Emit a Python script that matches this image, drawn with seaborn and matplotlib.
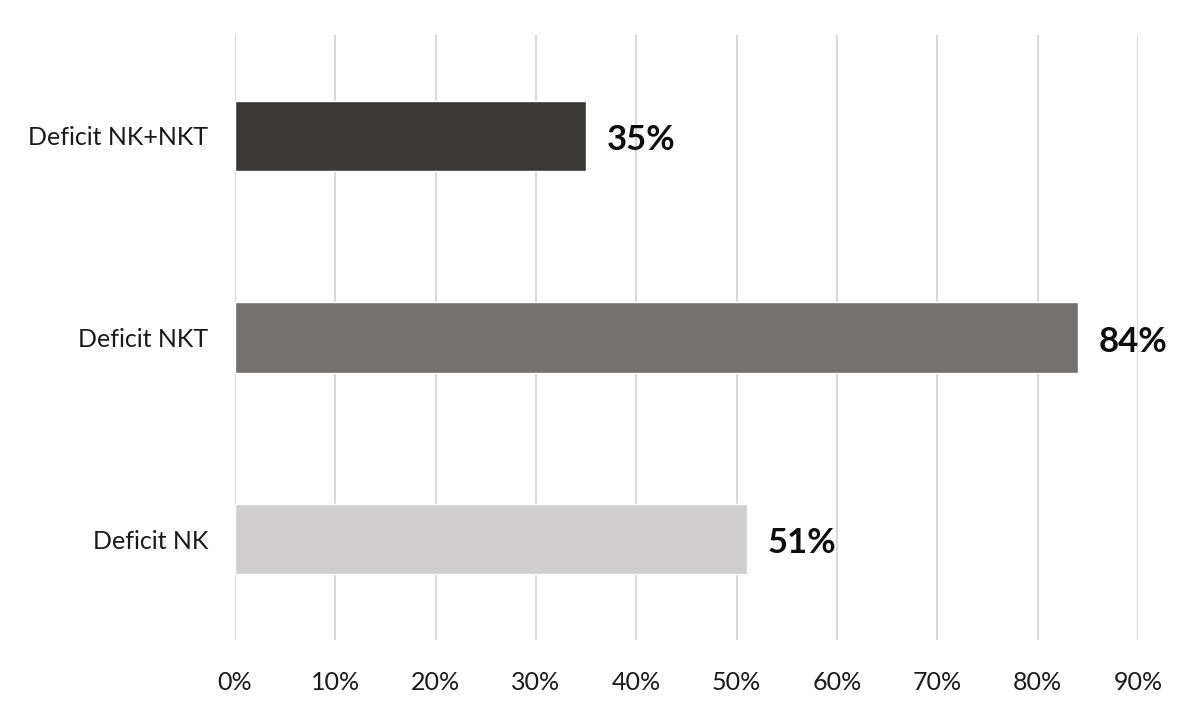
import matplotlib
matplotlib.use("Agg")
import matplotlib.pyplot as plt
import seaborn as sns
import pandas as pd
from matplotlib.ticker import FixedLocator

categories = ["Deficit NK+NKT", "Deficit NKT", "Deficit NK"]
values = [35, 84, 51]
colors = ["#3a3837", "#757170", "#d0cecf"]
tick_values = [0, 10, 20, 30, 40, 50, 60, 70, 80, 90]
tick_labels = ["0%", "10%", "20%", "30%", "40%", "50%", "60%", "70%", "80%", "90%"]

sns.set_style("white")
plt.rcParams["font.family"] = ["Lato", "DejaVu Sans"]

df = pd.DataFrame({"cat": categories, "val": values})

fig = plt.figure(figsize=(11.97, 7.23), dpi=100)
ax = fig.add_axes([0.1963, 0.1148, 0.7544, 0.8368])
sns.barplot(data=df, x="val", y="cat", hue="cat", palette=colors, order=categories,
            hue_order=categories, width=0.35, legend=False, ax=ax, saturation=1)

ax.set_xlim(0, 90)
ax.set_ylim(2.5, -0.5)
ax.xaxis.set_major_locator(FixedLocator(tick_values))
ax.set_xticklabels(tick_labels, fontsize=18, color="#1a1a1a")
ax.tick_params(axis="y", labelsize=18, labelcolor="#1a1a1a", length=0, pad=19)
ax.tick_params(axis="x", length=0, pad=22)
ax.set_xlabel("")
ax.set_ylabel("")
ax.grid(axis="x", color="#d9d9d9", linewidth=1.5)
ax.set_axisbelow(True)
for s in ax.spines.values():
    s.set_visible(False)

for i, v in enumerate(values):
    ax.text(v + 2.1, i + 0.02, f"{v}%", va="center", ha="left", fontsize=25,
            fontweight="bold", color="#0d0d0d")

fig.savefig("out.png", dpi=100, facecolor="white")
